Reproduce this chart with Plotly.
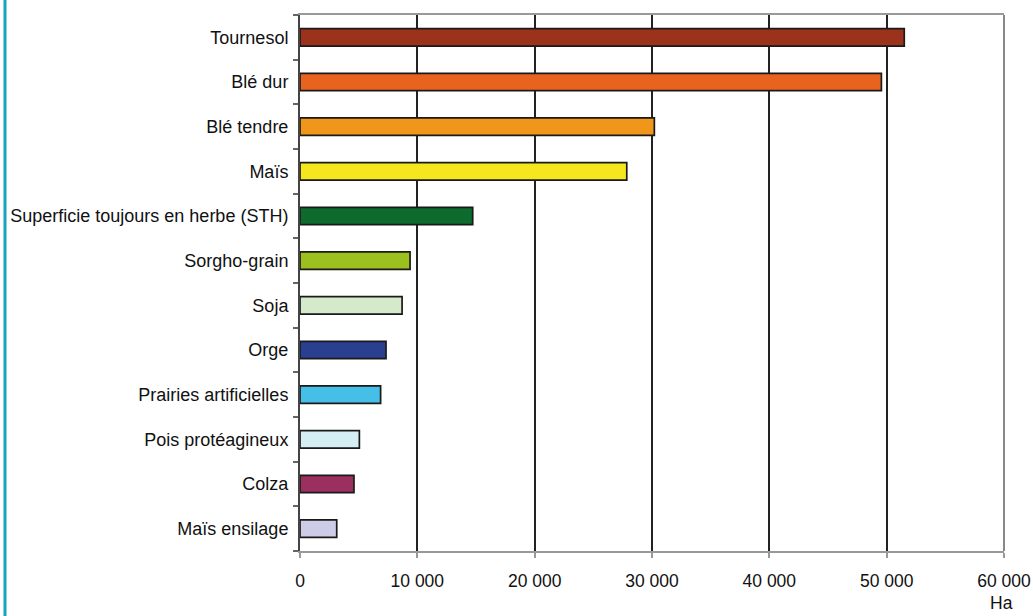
import plotly.graph_objects as go

categories = ["Tournesol", "Blé dur", "Blé tendre", "Maïs",
              "Superficie toujours en herbe (STH)", "Sorgho-grain", "Soja", "Orge",
              "Prairies artificielles", "Pois protéagineux", "Colza", "Maïs ensilage"]
values = [51500, 49550, 30200, 27850, 14720, 9380, 8700, 7330, 6870, 5060, 4600, 3130]
colors = ["#9B321C", "#E8641E", "#F0961A", "#F5E61E", "#0D6B2E", "#9CC11F",
          "#D4EACB", "#2B3F91", "#45BFE8", "#D4EEF4", "#9B2F60", "#CDCBE6"]
x_ticks = [0, 10000, 20000, 30000, 40000, 50000, 60000]

W, H = 1033, 616
ml, mr, mt, mb = 300, 29, 15, 65
pw, ph = W - ml - mr, H - mt - mb

fig = go.Figure(go.Bar(
    x=values, y=categories, orientation="h",
    marker=dict(color=colors, line=dict(color="#1a1a1a", width=1.7)),
    width=0.39,
))

font = dict(family="Liberation Sans, Arial, sans-serif", size=17.5, color="#111")
yfont = dict(family="Liberation Sans, Arial, sans-serif", size=18, color="#111")

fig.update_layout(
    width=W, height=H, autosize=False,
    margin=dict(l=ml, r=mr, t=mt, b=mb, pad=0),
    paper_bgcolor="white", plot_bgcolor="white",
    showlegend=False, separators=", ", font=font,
    xaxis=dict(range=[0, 60000], tickvals=x_ticks, tickformat=",d",
               showgrid=True, gridcolor="#222", gridwidth=2, automargin=False,
               zeroline=False, showline=True, linecolor="#999", linewidth=2,
               mirror=True, ticks="outside", ticklen=5, tickcolor="#999",
               tickwidth=1.5, tickfont=font, ticklabelstandoff=8, fixedrange=True),
    yaxis=dict(categoryorder="array", categoryarray=categories[::-1],
               showgrid=False, zeroline=False, showline=True, linecolor="#444",
               linewidth=2, ticks="outside", tickson="boundaries", ticklen=5,
               tickcolor="#666", tickwidth=1.5, tickfont=yfont, ticklabelstandoff=6,
               automargin=False, fixedrange=True),
    shapes=[
        dict(type="line", xref="paper", yref="paper", x0=1, x1=1, y0=0, y1=1,
             line=dict(color="#888", width=2)),
        dict(type="line", xref="paper", yref="paper",
             x0=(5 - ml) / pw, x1=(5 - ml) / pw, y0=(mt + ph) / ph, y1=-(mb) / ph,
             line=dict(color="#19A3BD", width=3)),
    ],
    annotations=[dict(text="Ha", xref="paper", yref="paper", x=(1001 - ml) / pw,
                      y=-(603 - mt - ph) / ph, xanchor="center", yanchor="middle",
                      showarrow=False, font=font)],
)

fig.write_html("out.html")
